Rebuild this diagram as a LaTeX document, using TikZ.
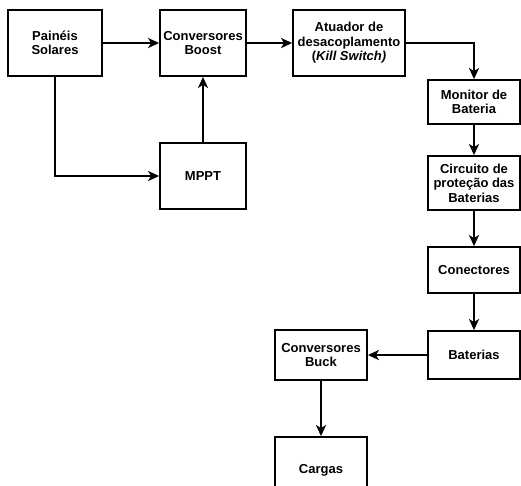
\documentclass[tikz,border=0pt]{standalone}
\usepackage{fontspec}
\setmainfont{Liberation Sans}
\usetikzlibrary{arrows.meta}

\begin{document}
\begin{tikzpicture}[x=1pt,y=-1pt,
  bloco/.style={draw,line width=1.8pt,rectangle,align=center,inner sep=1pt,
    font=\fontsize{13}{14.5}\selectfont\bfseries},
  seta/.style={line width=2pt,-{Stealth[length=11pt,width=10pt,inset=3pt]}}]
%define the frame
\useasboundingbox (0,0) rectangle (521,485);
\clip (0,0) rectangle (521,485);
%draw the blocks of the top row
\node[bloco,minimum width=94pt,minimum height=66pt] (paineis) at (55,43) {Painéis\\Solares};
\node[bloco,minimum width=86pt,minimum height=66pt] (boost) at (203,43) {Conversores\\Boost};
\node[bloco,minimum width=86pt,minimum height=66pt] (mppt) at (203,176) {MPPT};
\node[bloco,minimum width=112pt,minimum height=66pt] (atuador) at (349,43) {Atuador de\\desacoplamento\\(\textit{Kill Switch)}};
%draw the blocks of the right column
\node[bloco,minimum width=92pt,minimum height=44pt] (monitor) at (474,102) {Monitor de\\Bateria};
\node[bloco,minimum width=92pt,minimum height=54pt] (circuito) at (474,183) {Circuito de\\proteção das\\Baterias};
\node[bloco,minimum width=92pt,minimum height=46pt] (conectores) at (474,270) {Conectores};
\node[bloco,minimum width=92pt,minimum height=48pt] (baterias) at (474,355) {Baterias};
%draw the load side
\node[bloco,minimum width=92pt,minimum height=50pt] (buck) at (321,355) {Conversores\\Buck};
\node[bloco,minimum width=92pt,minimum height=66pt] (cargas) at (321,470) {Cargas};
%draw the connectors
\draw[seta] (paineis) -- (boost);
\draw[seta] (paineis.south) |- (mppt.west);
\draw[seta] (mppt) -- (boost);
\draw[seta] (boost) -- (atuador);
\draw[seta] (atuador.east) -| (monitor.north);
\draw[seta] (monitor) -- (circuito);
\draw[seta] (circuito) -- (conectores);
\draw[seta] (conectores) -- (baterias);
\draw[seta] (baterias) -- (buck);
\draw[seta] (buck) -- (cargas);
\end{tikzpicture}
\end{document}
